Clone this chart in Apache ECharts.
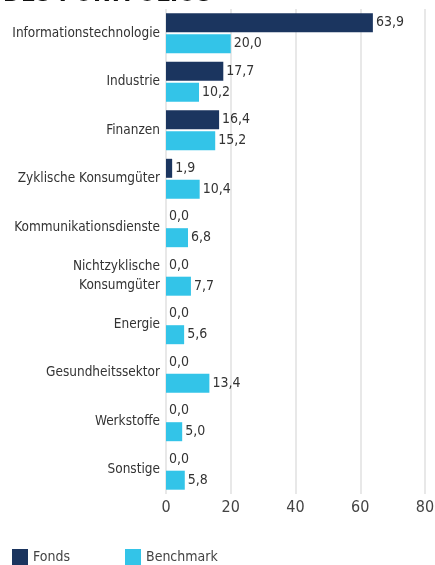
<!DOCTYPE html>
<html>
<head>
<meta charset="utf-8">
<script src="https://cdn.jsdelivr.net/npm/echarts@6/dist/echarts.min.js"></script>
<style>
  html, body { margin: 0; padding: 0; background: #fff; }
  #chart { width: 435px; height: 565px; }
</style>
</head>
<body>
<div id="chart"></div>
<script>
// Sektoren (von oben nach unten)
const categories = [
  'Informationstechnologie',
  'Industrie',
  'Finanzen',
  'Zyklische Konsumgüter',
  'Kommunikationsdienste',
  'Nichtzyklische\nKonsumgüter',
  'Energie',
  'Gesundheitssektor',
  'Werkstoffe',
  'Sonstige'
];
const fondsValues = [63.9, 17.7, 16.4, 1.9, 0.0, 0.0, 0.0, 0.0, 0.0, 0.0];
const benchmarkValues = [20.0, 10.2, 15.2, 10.4, 6.8, 7.7, 5.6, 13.4, 5.0, 5.8];
const xTicks = [0, 20, 40, 60, 80];

const FONT = '"DejaVu Sans Condensed", "Liberation Sans Narrow", sans-serif';
const fmt = (v) => v.toFixed(1).replace('.', ',');

const chart = echarts.init(document.getElementById('chart'));
chart.setOption({
  animation: false,
  textStyle: { fontFamily: FONT },
  title: {
    text: 'DES PORTFOLIOS',
    left: -2,
    top: -22,
    textStyle: { fontFamily: FONT, fontSize: 24, fontWeight: 'bold', color: '#111' }
  },
  grid: { left: 166, right: 10, top: 9, bottom: 71, containLabel: false, outerBoundsMode: 'none' },
  legend: {
    left: 12,
    top: 549,
    padding: 0,
    itemWidth: 16,
    itemHeight: 16,
    itemGap: 55,
    icon: 'rect',
    textStyle: { fontFamily: FONT, fontSize: 14, color: '#444' },
    data: ['Fonds', 'Benchmark']
  },
  xAxis: {
    type: 'value',
    min: xTicks[0],
    max: xTicks[xTicks.length - 1],
    interval: 20,
    axisLine: { show: false },
    axisTick: { show: false },
    axisLabel: { color: '#444', fontSize: 16, fontFamily: FONT, margin: 6 },
    splitLine: { show: true, lineStyle: { color: '#e8e8e8', width: 2 } }
  },
  yAxis: {
    type: 'category',
    inverse: true,
    data: categories,
    axisLine: { show: false },
    axisTick: { show: false },
    axisLabel: { color: '#333', fontSize: 13.5, fontFamily: FONT, margin: 6, lineHeight: 19 }
  },
  series: [
    {
      name: 'Fonds',
      type: 'bar',
      data: fondsValues,
      barWidth: 19,
      barGap: '10%',
      itemStyle: { color: '#1b355f' },
      label: {
        show: true, position: 'right', distance: 3,
        color: '#333', fontSize: 14, fontFamily: FONT,
        formatter: (p) => fmt(p.value)
      }
    },
    {
      name: 'Benchmark',
      type: 'bar',
      data: benchmarkValues,
      barWidth: 19,
      itemStyle: { color: '#33c4e8' },
      label: {
        show: true, position: 'right', distance: 3,
        color: '#333', fontSize: 14, fontFamily: FONT,
        formatter: (p) => fmt(p.value)
      }
    }
  ]
});
</script>
</body>
</html>
